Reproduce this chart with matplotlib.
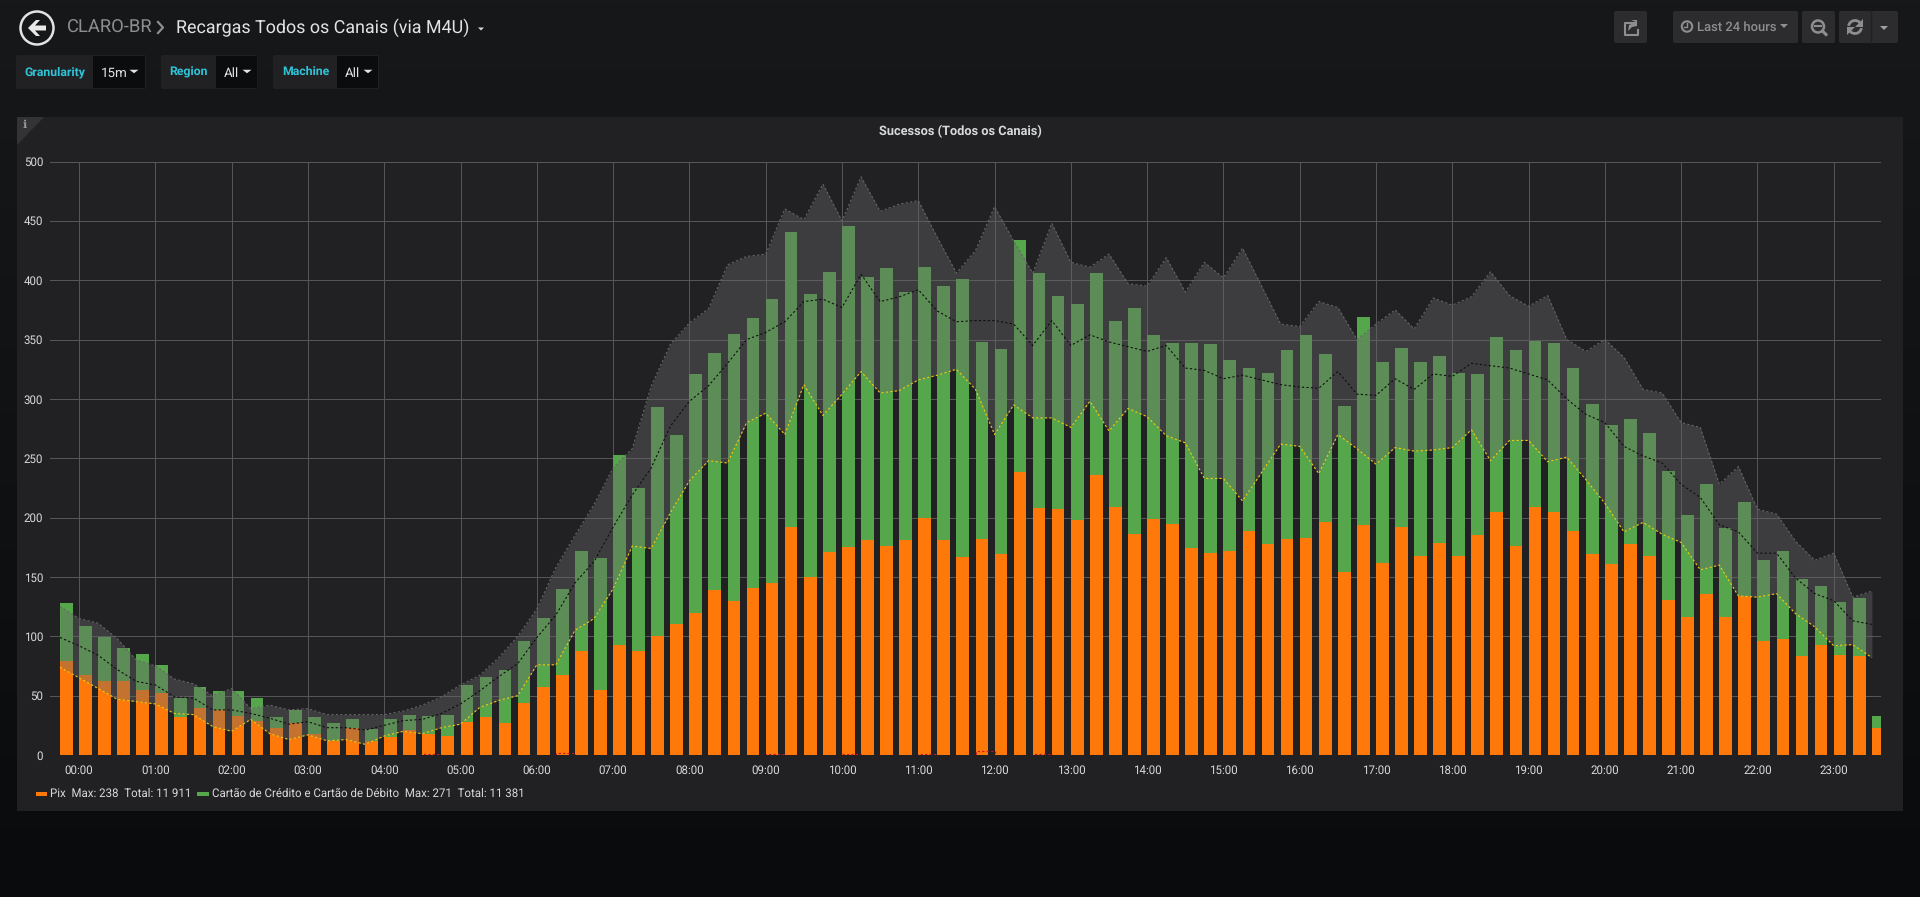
import numpy as np
import matplotlib
matplotlib.use('Agg')
import matplotlib.pyplot as plt
from matplotlib.patches import Rectangle, Polygon, Circle, FancyBboxPatch, Arc

plt.rcParams['font.family'] = ['Roboto', 'DejaVu Sans']
plt.rcParams['text.hinting'] = 'no_hinting'

# one bucket every 15 minutes, first one is 23:45 of the day before
pix = [79, 67, 62, 62, 55, 52, 32, 40, 38, 33, 29, 23, 27, 18, 12, 23,
       12, 15, 21, 18, 16, 28, 32, 27, 44, 57, 67, 88, 55, 93, 88, 100,
       110, 120, 139, 130, 141, 145, 192, 150, 171, 175, 181, 176, 181, 200, 181, 167,
       182, 169, 238, 208, 207, 198, 236, 209, 186, 199, 195, 174, 170, 172, 189, 178,
       182, 183, 196, 154, 194, 162, 192, 168, 179, 168, 185, 205, 176, 209, 205, 189,
       169, 161, 178, 168, 131, 116, 136, 116, 134, 96, 98, 83, 93, 84, 83, 23]
cartao = [49, 42, 37, 28, 30, 24, 16, 17, 16, 21, 19, 9, 11, 14, 15, 7,
          10, 15, 13, 15, 18, 31, 34, 45, 52, 58, 73, 84, 111, 160, 137, 193,
          160, 201, 200, 225, 227, 239, 249, 238, 236, 271, 222, 234, 209, 211, 214, 234,
          166, 173, 196, 198, 180, 182, 170, 157, 191, 155, 152, 173, 176, 161, 137, 144,
          159, 171, 142, 140, 175, 169, 151, 163, 157, 154, 136, 147, 165, 140, 142, 137,
          127, 117, 105, 103, 108, 86, 92, 75, 79, 68, 74, 65, 49, 45, 49, 10]
band_upper = [125, 115, 111, 98, 80, 75, 64, 60, 50, 56, 39, 42, 38, 39, 34, 34,
              34, 34, 37, 42, 49, 59, 67, 82, 100, 123, 158, 185, 211, 242, 258, 311,
              346, 364, 376, 413, 420, 422, 460, 451, 481, 450, 487, 458, 464, 467, 436, 406,
              425, 462, 433, 406, 448, 415, 411, 422, 397, 395, 419, 390, 415, 402, 427, 395,
              363, 361, 382, 377, 350, 363, 375, 359, 385, 379, 386, 407, 387, 378, 387, 350,
              340, 350, 335, 308, 305, 280, 276, 228, 243, 207, 203, 180, 164, 170, 133, 138]
band_mean = [99, 92, 84, 72, 62, 59, 49, 48, 38, 38, 35, 31, 26, 28, 23, 23,
             21, 25, 29, 30, 35, 43, 54, 66, 77, 99, 118, 145, 163, 192, 219, 242,
             277, 298, 311, 330, 350, 356, 365, 382, 384, 377, 405, 382, 386, 392, 374, 365,
             366, 366, 363, 345, 366, 345, 354, 348, 344, 340, 345, 326, 324, 317, 320, 316,
             312, 310, 309, 323, 304, 303, 317, 308, 321, 319, 330, 328, 326, 321, 316, 300,
             287, 280, 260, 252, 246, 228, 217, 194, 188, 170, 170, 149, 136, 130, 113, 110]
band_lower = [74, 65, 56, 47, 45, 43, 35, 34, 24, 20, 30, 18, 13, 17, 12, 13,
              9, 16, 20, 18, 23, 26, 40, 46, 50, 76, 76, 105, 115, 140, 176, 174,
              204, 231, 248, 246, 280, 288, 270, 312, 286, 304, 323, 305, 307, 316, 320, 325,
              308, 270, 295, 284, 284, 276, 298, 273, 292, 285, 269, 263, 233, 233, 214, 238,
              262, 260, 237, 270, 258, 245, 259, 256, 257, 259, 274, 248, 265, 265, 247, 251,
              232, 212, 188, 196, 186, 179, 156, 160, 134, 133, 136, 119, 108, 92, 93, 82]
falhas = [0, 0, 0, 0, 0, 0, 0, 0, 0, 0, 0, 0, 0, 0, 0, 0,
          0, 0, 0, 1, 0, 0, 0, 0, 0, 0, 2, 0, 0, 0, 0, 0,
          0, 0, 0, 0, 0, 1, 0, 0, 0, 1, 0, 0, 0, 1, 0, 0,
          3, 0, 0, 1, 0, 0, 0, 0, 0, 0, 0, 0, 0, 0, 0, 0,
          0, 0, 0, 0, 0, 0, 0, 0, 0, 0, 0, 0, 0, 0, 0, 0,
          0, 0, 0, 0, 0, 0, 0, 0, 0, 0, 0, 0, 0, 0, 0, 0]

hour_ticks = list(range(24))
hour_labels = [f'{h:02d}:00' for h in hour_ticks]
value_ticks = [0, 50, 100, 150, 200, 250, 300, 350, 400, 450, 500]

W, H = 1920, 897
TEXT = '#d8d9da'
GRAY = '#8e8e8e'
CYAN = '#2ec5d8'
DOTS = (0, (2, 2))

fig = plt.figure(figsize=(W / 100, H / 100), dpi=100)

# page furniture is drawn in pixel coordinates
bg = fig.add_axes([0, 0, 1, 1])
bg.set_xlim(0, W)
bg.set_ylim(H, 0)
bg.axis('off')
grad = np.linspace(0, 1, 256)[:, None, None] * (np.array([10, 11, 13]) - np.array([23, 24, 26])) + np.array([23, 24, 26])
bg.imshow(grad / 255, extent=[0, W, H, 0], aspect='auto', zorder=0)
bg.set_xlim(0, W)
bg.set_ylim(H, 0)


def box(x0, y0, x1, y1, color):
    bg.add_patch(FancyBboxPatch((x0 + 1, y0 + 1), x1 - x0 - 2, y1 - y0 - 2, boxstyle='round,pad=1,rounding_size=2',
                                fc=color, ec='none', zorder=1))


def caret(x, y, color, w=4.5, h=3.5):
    bg.add_patch(Polygon([(x - w, y - h / 2), (x + w, y - h / 2), (x, y + h / 2)], fc=color, ec='none', zorder=3))


def label(x, y, s, color=TEXT, size=8.5, ha='left', weight='normal', **kw):
    bg.text(x, y, s, color=color, fontsize=size, ha=ha, va='center', fontweight=weight, zorder=3, **kw)


# header
bg.add_patch(Circle((37, 28), 16.5, fc='none', ec='#e3e3e3', lw=1.8, zorder=3))
bg.add_patch(Polygon([(28, 28), (36, 20), (40, 20), (35, 25.5), (46, 25.5), (46, 30.5), (35, 30.5), (40, 36), (36, 36)],
                     fc='#e8e8e8', ec='none', zorder=3))
label(67, 27.5, 'CLARO-BR', color=GRAY, size=13.2)
bg.plot([158, 163, 158], [22, 27.5, 33], color=GRAY, lw=1.6, zorder=3)
label(176, 27.5, 'Recargas Todos os Canais (via M4U)', color='#e3e3e3', size=12.9)
caret(481, 29, '#d8d9da', w=3, h=3)

# template variables
for x0, xm, x1, name, nx, value, vx, cx in [(16, 93, 146, 'Granularity', 24.5, '15m', 101, 134),
                                            (161, 215.5, 257.5, 'Region', 169, 'All', 224, 247),
                                            (273, 337, 379, 'Machine', 282, 'All', 345, 368)]:
    box(x0, 55, x1, 89, '#212124')
    bg.add_patch(Rectangle((xm, 56), x1 - xm - 1, 32, fc='#0b0c0e', ec='none', zorder=2))
    label(nx, 72, name, color=CYAN, size=8.8, weight='bold')
    label(vx, 73, value, color='#e3e3e3', size=9.6)
    caret(cx, 71.5, '#e3e3e3')

# top right buttons
for x0, x1 in [(1614, 1647), (1673, 1798), (1802, 1835), (1839, 1898)]:
    box(x0, 11, x1, 43, '#2c2c2f')
bg.plot([1871, 1871], [11, 43], color='#212124', lw=1, zorder=2)
bg.plot([1636, 1625, 1625, 1638, 1638], [23, 23, 35, 35, 30], color=GRAY, lw=1.5, zorder=3)
bg.add_patch(Polygon([(1637, 20), (1631, 20), (1636, 22), (1629, 25), (1628, 31), (1632, 27), (1637, 26)], fc=GRAY, zorder=3))
bg.add_patch(Circle((1687, 26.5), 5.2, fc='none', ec=GRAY, lw=1.5, zorder=3))
bg.plot([1687, 1687, 1684], [23, 27, 27], color=GRAY, lw=1, zorder=3)
label(1697, 27, 'Last 24 hours', color=GRAY, size=9.4, weight='medium')
caret(1784, 26, GRAY, w=4, h=4)
bg.add_patch(Circle((1818, 26.5), 6, fc='none', ec=GRAY, lw=1.8, zorder=3))
bg.plot([1815, 1821], [26.5, 26.5], color=GRAY, lw=1.5, zorder=3)
bg.plot([1822.5, 1826], [31, 34.5], color=GRAY, lw=2.2, zorder=3)
bg.add_patch(Arc((1855, 27), 13, 13, theta1=190, theta2=330, ec=GRAY, lw=2, zorder=3))
bg.add_patch(Arc((1855, 27), 13, 13, theta1=10, theta2=150, ec=GRAY, lw=2, zorder=3))
bg.add_patch(Polygon([(1863, 19), (1863, 27), (1855, 27)], fc=GRAY, zorder=3))
bg.add_patch(Polygon([(1847, 35), (1847, 27), (1855, 27)], fc=GRAY, zorder=3))
caret(1884, 28, '#a0a0a0', w=4, h=4)

# panel
bg.add_patch(Rectangle((17, 117), 1886, 694, fc='#212124', ec='none', zorder=1))
bg.add_patch(Polygon([(17, 117), (44, 117), (17, 145)], fc='#333336', ec='none', zorder=2))
bg.text(25, 125, 'i', color='#9a9a9a', fontsize=8, fontweight='bold', family=['DejaVu Serif'], ha='center', va='center', zorder=3)
label(960, 131.5, 'Sucessos (Todos os Canais)', size=9.2, ha='center', weight='bold')

# legend
bg.add_patch(Rectangle((35.5, 792), 11.5, 4, fc='#ff780a', ec='none', zorder=3))
label(50.5, 794, 'Pix  Max: 238  Total: 11 911', size=8.3)
bg.add_patch(Rectangle((197, 792), 11.5, 4, fc='#56a64b', ec='none', zorder=3))
label(212.5, 794, 'Cartão de Crédito e Cartão de Débito  Max: 271  Total: 11 381', size=8.3)

# chart, x axis in hours after 00:00
t = (np.arange(len(pix)) - 1) * 0.25
ax = fig.add_axes([50 / W, 1 - 755 / H, (1881 - 50) / W, (755 - 161.5) / H])
ax.patch.set_alpha(0)
for side in ax.spines.values():
    side.set_visible(False)

ax.bar(t, pix, width=0.1665, align='edge', color='#ff780a', linewidth=0, zorder=2)
ax.bar(t, cartao, width=0.1665, bottom=pix, align='edge', color='#56a64b', linewidth=0, zorder=2)
ax.fill_between(t, band_lower, band_upper, color='#696969', alpha=0.4, linewidth=0, zorder=3)
ax.plot(t, band_upper, color='#656567', lw=0.8, ls=DOTS, zorder=4)
ax.plot(t, band_mean, color='#0e0e0e', lw=0.8, ls=DOTS, zorder=4)
ax.plot(t, band_lower, color='#f2cc0c', lw=0.8, ls=DOTS, zorder=4)
ax.step(t, falhas, where='post', color='#c4162a', lw=0.8, ls=DOTS, zorder=4)

ax.set_xlim((50 - 79.1) / 76.29, (1881 - 79.1) / 76.29)
ax.set_ylim(0, 500)
ax.set_xticks(hour_ticks)
ax.set_xticklabels(hour_labels)
ax.set_yticks(value_ticks)
ax.tick_params(length=0, labelsize=8.3, colors=TEXT)
ax.tick_params(axis='x', pad=7)
ax.tick_params(axis='y', pad=5)
ax.grid(True, color='#555557', lw=0.72, zorder=1)
ax.set_axisbelow(True)

fig.savefig('out.png', dpi=100)
